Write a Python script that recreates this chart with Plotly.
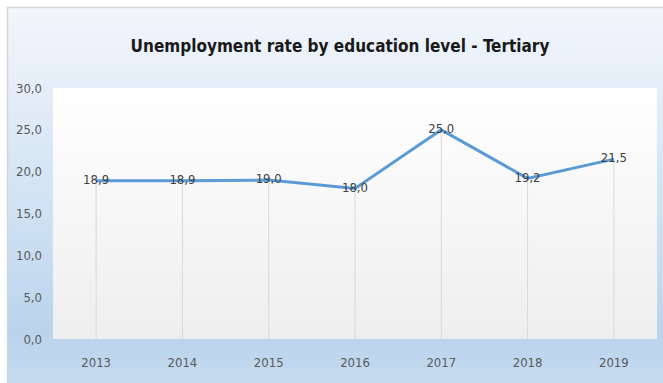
import base64
import plotly.graph_objects as go

years = ["2013", "2014", "2015", "2016", "2017", "2018", "2019"]
rates = [18.9, 18.9, 19.0, 18.0, 25.0, 19.2, 21.5]
labels = [f"{v:.1f}".replace(".", ",") for v in rates]

W, H = 663, 383
ML, MR, MT, MB = 53, 6, 88, 44
PW, PH = W - ML - MR, H - MT - MB

FONT = "DejaVu Sans Condensed, Liberation Sans Narrow, sans-serif"

svg = f"""<svg xmlns='http://www.w3.org/2000/svg' width='{W}' height='{H}' viewBox='0 0 {W} {H}' preserveAspectRatio='none'>
<defs>
<linearGradient id='g1' x1='0' y1='0' x2='0' y2='1'>
<stop offset='0' stop-color='#f2f6fc'/>
<stop offset='0.25' stop-color='#e2ecf7'/>
<stop offset='0.6' stop-color='#cbdff2'/>
<stop offset='0.85' stop-color='#bad3ec'/>
<stop offset='1' stop-color='#c6dcf0'/>
</linearGradient>
<linearGradient id='g2' x1='0' y1='0' x2='0' y2='1'>
<stop offset='0' stop-color='#ffffff'/>
<stop offset='1' stop-color='#eeeeee'/>
</linearGradient>
</defs>
<rect x='0' y='0' width='{W}' height='{H}' fill='#ffffff'/>
<rect x='7.5' y='7.5' width='{W}' height='{H}' fill='url(#g1)' stroke='#d6d6d6' stroke-width='1.5'/>
<rect x='{ML}' y='{MT}' width='{PW}' height='{PH}' fill='url(#g2)'/>
</svg>"""
src = "data:image/svg+xml;base64," + base64.b64encode(svg.encode()).decode()

fig = go.Figure()
fig.add_trace(go.Scatter(
    x=years, y=rates, mode="lines+text",
    text=labels, textposition="middle center",
    textfont=dict(family=FONT, size=13, color="#404040"),
    line=dict(color="#5b9bd5", width=3),
    error_y=dict(type="data", symmetric=False, array=[0] * len(rates),
                 arrayminus=rates, color="#d9d9d9", thickness=1, width=0),
    hoverinfo="skip", showlegend=False,
))

fig.update_layout(
    width=W, height=H, autosize=False,
    margin=dict(l=ML, r=MR, t=MT, b=MB, pad=0),
    paper_bgcolor="white", plot_bgcolor="rgba(0,0,0,0)",
    separators=",.",
    title=dict(text="<b>Unemployment rate by education level - Tertiary</b>",
               x=340 / W, xanchor="center",
               y=1 - 46 / H, yanchor="middle",
               font=dict(family=FONT, size=17, color="#1a1a1a")),
    images=[dict(source=src, xref="paper", yref="paper",
                 x=-ML / PW, y=(PH + MT) / PH, sizex=W / PW, sizey=H / PH,
                 xanchor="left", yanchor="top", sizing="stretch", layer="below")],
    xaxis=dict(type="category", range=[-0.5, len(years) - 0.5], showgrid=False,
               zeroline=False, showline=False, ticks="",
               tickfont=dict(family=FONT, size=13, color="#595959"),
               ticklabelstandoff=14),
    yaxis=dict(range=[0, 30], dtick=5, tickformat=".1f", showgrid=False,
               zeroline=False, showline=False, ticks="",
               tickfont=dict(family=FONT, size=13, color="#595959"),
               ticklabelstandoff=10),
)

fig.write_html("out.html")
